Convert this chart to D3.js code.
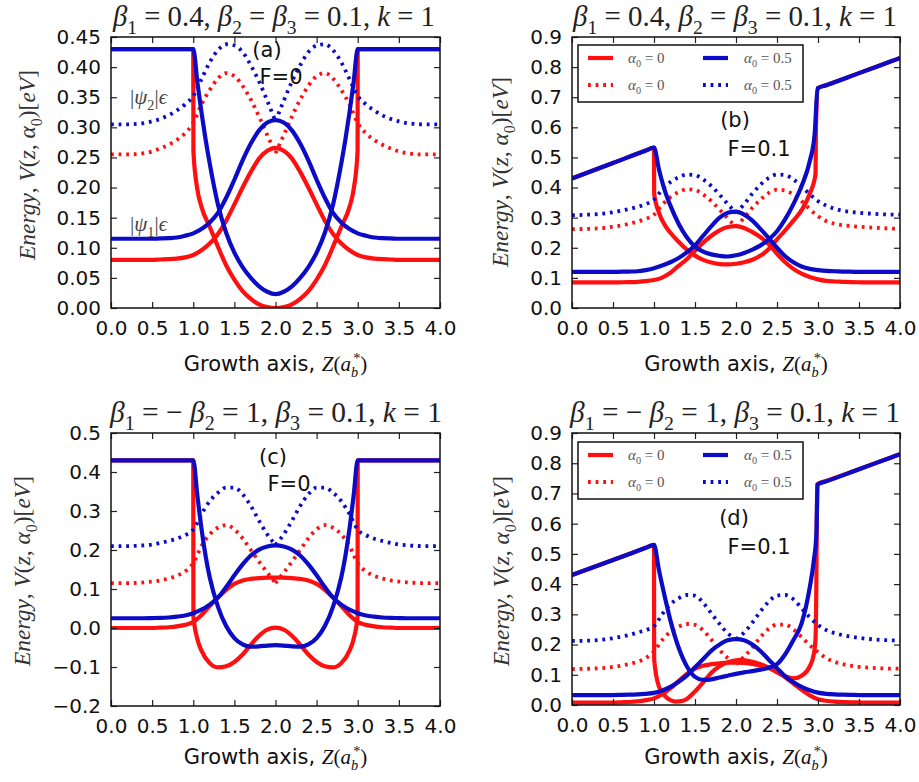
<!DOCTYPE html>
<html><head><meta charset="utf-8">
<script src="https://cdn.jsdelivr.net/npm/d3@7"></script>
<style>body{margin:0;background:#fff} svg{display:block}</style>
</head><body>
<svg id="c" width="919" height="782"></svg>
<script>
// ---------- data ----------
const xTicks = [0,0.5,1,1.5,2,2.5,3,3.5,4];
const a_yTicks = [0,0.05,0.1,0.15,0.2,0.25,0.3,0.35,0.4,0.45];
const b_yTicks = [0,0.1,0.2,0.3,0.4,0.5,0.6,0.7,0.8,0.9];
const c_yTicks = [-0.2,-0.1,0,0.1,0.2,0.3,0.4,0.5];
const d_yTicks = [0,0.1,0.2,0.3,0.4,0.5,0.6,0.7,0.8,0.9];

const zGrid = [0,0.2,0.4,0.5,0.6,0.7,0.8,0.9,1.0,1.1,1.2,1.3,1.4,1.5,1.6,1.7,1.8,1.9,2.0,
               2.1,2.2,2.3,2.4,2.5,2.6,2.7,2.8,2.9,3.0,3.1,3.2,3.3,3.4,3.5,3.6,3.8,4.0];

// panel (a)  beta1=0.4, F=0
const a_pot_red = [[0,0.43],[1.0,0.43],[1.002,0.26],[1.05,0.197],[1.1,0.168],[1.2,0.135],[1.3,0.102],[1.4,0.071],[1.5,0.047],[1.6,0.028],[1.7,0.015],[1.8,0.006],[1.9,0.0015],[2.0,0],
  [2.1,0.0015],[2.2,0.006],[2.3,0.015],[2.4,0.028],[2.5,0.047],[2.6,0.071],[2.7,0.102],[2.8,0.135],[2.9,0.168],[2.95,0.197],[2.998,0.26],[3.0,0.43],[4.0,0.43]];
const a_pot_blue = [[0,0.43],[1.0,0.43],[1.05,0.375],[1.1,0.325],[1.15,0.28],[1.2,0.24],[1.3,0.172],[1.4,0.125],[1.5,0.092],[1.6,0.068],[1.7,0.05],[1.8,0.036],[1.9,0.027],[2.0,0.023],
  [2.1,0.027],[2.2,0.036],[2.3,0.05],[2.4,0.068],[2.5,0.092],[2.6,0.125],[2.7,0.172],[2.8,0.24],[2.85,0.28],[2.9,0.325],[2.95,0.375],[3.0,0.43],[4.0,0.43]];
const a_psi1_red  = [0.080,0.080,0.080,0.080,0.0805,0.081,0.082,0.084,0.088,0.096,0.107,0.123,0.145,0.172,0.200,0.226,0.248,0.261,0.266,
                     0.261,0.248,0.226,0.200,0.172,0.145,0.123,0.107,0.096,0.088,0.084,0.082,0.081,0.0805,0.080,0.080,0.080,0.080];
const a_psi1_blue = [0.115,0.115,0.115,0.115,0.1155,0.116,0.117,0.120,0.124,0.131,0.142,0.158,0.183,0.213,0.245,0.273,0.295,0.308,0.312,
                     0.308,0.295,0.273,0.245,0.213,0.183,0.158,0.142,0.131,0.124,0.120,0.117,0.116,0.1155,0.115,0.115,0.115,0.115];
const a_psi2_red  = [0.255,0.255,0.257,0.260,0.265,0.271,0.279,0.290,0.307,0.338,0.362,0.381,0.390,0.385,0.369,0.346,0.318,0.287,0.257,
                     0.287,0.318,0.346,0.369,0.385,0.390,0.381,0.362,0.338,0.307,0.290,0.279,0.271,0.265,0.260,0.257,0.255,0.255];
const a_psi2_blue = [0.305,0.305,0.307,0.310,0.314,0.320,0.328,0.338,0.352,0.380,0.408,0.428,0.438,0.436,0.425,0.403,0.376,0.344,0.310,
                     0.344,0.376,0.403,0.425,0.436,0.438,0.428,0.408,0.380,0.352,0.338,0.328,0.320,0.314,0.310,0.307,0.305,0.305];

// panel (b)  beta1=0.4, F=0.1
const b_pot_red = [[0,0.43],[0.5,0.4815],[0.9,0.523],[1.0,0.533],[1.002,0.38],[1.06,0.317],[1.14,0.272],[1.2,0.25],[1.3,0.22],[1.4,0.194],[1.5,0.174],[1.6,0.16],[1.7,0.151],[1.8,0.146],[1.9,0.145],[2.0,0.147],
  [2.1,0.152],[2.2,0.16],[2.3,0.174],[2.4,0.196],[2.5,0.228],[2.6,0.258],[2.7,0.29],[2.8,0.325],[2.9,0.38],[2.97,0.445],[2.975,0.6],[3.0,0.73],[3.1,0.74],[3.5,0.78],[3.9,0.82],[4.0,0.83]];
const b_pot_blue = [[0,0.43],[0.5,0.4815],[0.9,0.523],[1.0,0.533],[1.06,0.461],[1.14,0.383],[1.2,0.34],[1.3,0.28],[1.4,0.235],[1.5,0.204],[1.6,0.187],[1.7,0.178],[1.8,0.173],[1.9,0.171],[2.0,0.175],
  [2.1,0.183],[2.2,0.194],[2.3,0.208],[2.4,0.228],[2.5,0.255],[2.6,0.295],[2.7,0.345],[2.8,0.405],[2.9,0.488],[2.96,0.58],[2.995,0.73],[3.1,0.74],[3.5,0.78],[3.9,0.82],[4.0,0.83]];
const b_psi1_red  = [0.085,0.085,0.085,0.085,0.0855,0.086,0.087,0.089,0.093,0.101,0.117,0.14,0.162,0.19,0.217,0.24,0.258,0.269,0.272,
                     0.266,0.252,0.235,0.212,0.18,0.152,0.13,0.114,0.103,0.095,0.09,0.088,0.087,0.086,0.0855,0.085,0.085,0.085];
const b_psi1_blue = [0.120,0.120,0.120,0.120,0.1205,0.121,0.122,0.126,0.132,0.141,0.152,0.166,0.185,0.208,0.24,0.272,0.300,0.316,0.320,
                     0.310,0.290,0.262,0.232,0.200,0.172,0.152,0.138,0.130,0.126,0.123,0.122,0.121,0.1205,0.120,0.120,0.120,0.120];
const b_psi2_red  = [0.262,0.263,0.266,0.270,0.274,0.280,0.287,0.296,0.310,0.343,0.368,0.385,0.394,0.392,0.377,0.355,0.327,0.297,0.270,
                     0.300,0.333,0.360,0.382,0.393,0.390,0.377,0.355,0.328,0.305,0.289,0.280,0.275,0.272,0.270,0.268,0.265,0.263];
const b_psi2_blue = [0.308,0.310,0.314,0.318,0.323,0.329,0.336,0.345,0.360,0.393,0.418,0.434,0.443,0.441,0.427,0.405,0.376,0.345,0.315,
                     0.345,0.380,0.410,0.432,0.443,0.441,0.427,0.404,0.378,0.355,0.340,0.330,0.323,0.319,0.316,0.314,0.311,0.310];

// panel (c)  beta1=-beta2=1, F=0
const c_pot_red = [[0,0.43],[1.0,0.43],[1.002,0.03],[1.05,-0.028],[1.1,-0.058],[1.2,-0.09],[1.3,-0.101],[1.4,-0.098],[1.5,-0.087],[1.6,-0.068],[1.7,-0.043],[1.8,-0.02],[1.9,-0.004],[2.0,0.001],
  [2.1,-0.004],[2.2,-0.02],[2.3,-0.043],[2.4,-0.068],[2.5,-0.087],[2.6,-0.098],[2.7,-0.101],[2.8,-0.09],[2.9,-0.058],[2.95,-0.028],[2.998,0.03],[3.0,0.43],[4.0,0.43]];
const c_pot_blue = [[0,0.43],[1.0,0.43],[1.05,0.34],[1.1,0.255],[1.15,0.185],[1.2,0.13],[1.3,0.055],[1.4,0.005],[1.5,-0.026],[1.6,-0.042],[1.7,-0.048],[1.8,-0.047],[1.9,-0.045],[2.0,-0.044],
  [2.1,-0.045],[2.2,-0.047],[2.3,-0.048],[2.4,-0.042],[2.5,-0.026],[2.6,0.005],[2.7,0.055],[2.8,0.13],[2.85,0.185],[2.9,0.255],[2.95,0.34],[3.0,0.43],[4.0,0.43]];
const c_psi1_red  = [0,0,0,0,0.001,0.002,0.004,0.008,0.015,0.033,0.056,0.078,0.098,0.113,0.122,0.126,0.128,0.129,0.129,
                     0.129,0.128,0.126,0.122,0.113,0.098,0.078,0.056,0.033,0.015,0.008,0.004,0.002,0.001,0,0,0,0];
const c_psi1_blue = [0.025,0.025,0.025,0.0255,0.026,0.027,0.029,0.032,0.038,0.047,0.060,0.078,0.105,0.135,0.163,0.186,0.201,0.209,0.212,
                     0.209,0.201,0.186,0.163,0.135,0.105,0.078,0.060,0.047,0.038,0.032,0.029,0.027,0.026,0.0255,0.025,0.025,0.025];
const c_psi2_red  = [0.115,0.115,0.117,0.119,0.122,0.127,0.134,0.145,0.166,0.210,0.240,0.257,0.264,0.253,0.230,0.200,0.170,0.142,0.115,
                     0.142,0.170,0.200,0.230,0.253,0.264,0.257,0.240,0.210,0.166,0.145,0.134,0.127,0.122,0.119,0.117,0.115,0.115];
const c_psi2_blue = [0.210,0.210,0.212,0.214,0.218,0.223,0.229,0.238,0.252,0.292,0.325,0.347,0.360,0.360,0.343,0.313,0.275,0.240,0.213,
                     0.240,0.275,0.313,0.343,0.360,0.360,0.347,0.325,0.292,0.252,0.238,0.229,0.223,0.218,0.214,0.212,0.210,0.210];

// panel (d)  beta1=-beta2=1, F=0.1
const d_pot_red = [[0,0.43],[0.5,0.48],[0.9,0.52],[1.0,0.53],[1.002,0.15],[1.06,0.061],[1.14,0.028],[1.2,0.016],[1.27,0.011],[1.35,0.014],[1.4,0.02],[1.5,0.045],[1.6,0.075],[1.7,0.107],[1.8,0.128],[1.9,0.141],[2.0,0.148],
  [2.05,0.149],[2.1,0.148],[2.2,0.143],[2.3,0.135],[2.4,0.123],[2.5,0.108],[2.6,0.095],[2.7,0.088],[2.8,0.097],[2.9,0.128],[2.95,0.17],[2.97,0.22],[2.98,0.4],[2.99,0.73],[3.1,0.741],[3.5,0.78],[3.9,0.82],[4.0,0.83]];
const d_pot_blue = [[0,0.43],[0.5,0.48],[0.9,0.52],[1.0,0.53],[1.06,0.447],[1.14,0.348],[1.2,0.28],[1.3,0.19],[1.4,0.128],[1.5,0.093],[1.6,0.083],[1.7,0.085],[1.8,0.091],[1.9,0.097],[2.0,0.103],
  [2.1,0.108],[2.2,0.112],[2.3,0.117],[2.4,0.123],[2.5,0.135],[2.6,0.168],[2.7,0.215],[2.8,0.27],[2.9,0.39],[2.95,0.48],[2.98,0.565],[2.995,0.73],[3.1,0.74],[3.5,0.78],[3.9,0.82],[4.0,0.83]];
const d_psi1_red  = [0.008,0.008,0.008,0.008,0.009,0.010,0.012,0.016,0.022,0.036,0.055,0.079,0.103,0.120,0.130,0.135,0.138,0.140,0.140,
                     0.139,0.136,0.130,0.124,0.110,0.092,0.071,0.050,0.032,0.019,0.014,0.011,0.010,0.009,0.0085,0.008,0.008,0.008];
const d_psi1_blue = [0.033,0.033,0.033,0.033,0.0335,0.034,0.035,0.037,0.040,0.048,0.060,0.077,0.097,0.125,0.152,0.180,0.200,0.214,0.218,
                     0.214,0.200,0.178,0.150,0.122,0.095,0.075,0.060,0.049,0.041,0.037,0.035,0.034,0.0335,0.033,0.033,0.033,0.033];
const d_psi2_red  = [0.119,0.120,0.123,0.126,0.130,0.136,0.143,0.155,0.178,0.215,0.242,0.259,0.268,0.265,0.247,0.216,0.182,0.155,0.135,
                     0.160,0.190,0.225,0.252,0.266,0.266,0.250,0.225,0.198,0.175,0.155,0.143,0.135,0.130,0.126,0.124,0.121,0.120];
const d_psi2_blue = [0.212,0.213,0.217,0.221,0.226,0.232,0.240,0.248,0.260,0.300,0.333,0.353,0.364,0.362,0.338,0.303,0.268,0.237,0.218,
                     0.240,0.273,0.310,0.342,0.362,0.364,0.350,0.320,0.290,0.265,0.248,0.238,0.231,0.226,0.222,0.219,0.215,0.213];

const titleTop = [["β","i"],["1","sub"],[" = 0.4, ","r"],["β","i"],["2","sub"],[" = ","r"],["β","i"],["3","sub"],[" = 0.1, ","r"],["k","i"],[" = 1","r"]];
const titleBot = [["β","i"],["1","sub"],[" = − ","r"],["β","i"],["2","sub"],[" = 1, ","r"],["β","i"],["3","sub"],[" = 0.1, ","r"],["k","i"],[" = 1","r"]];
const yLabelParts = [["Energy","i"],[", ","r"],["V","i"],["(","r"],["z","i"],[", ","r"],["α","i"],["0","sub"],[")[","r"],["eV","i"],["]","r"]];
const legendLabels = [[["α","i"],["0","sub"],[" = 0","r"]],[["α","i"],["0","sub"],[" = 0.5","r"]]];

// ---------- drawing ----------
const RED = "#ff0f0f", BLUE = "#0c0cc6";
const DASH = "2.8,4.8", DOT_W = 3.8, SOLID_W = 4.2;
const SERIF = "'Liberation Serif','DejaVu Serif',serif";
const SANS = "'DejaVu Sans',sans-serif";
const svg = d3.select("#c");

function addMath(text, parts, fs) {
  let cur = 0;
  parts.forEach(([t, s, dx]) => {
    const ts = text.append("tspan").text(t);
    let target = 0, size = fs;
    if (s === "sub" || s === "subi") { target = fs * 0.28; size = fs * 0.68; }
    if (s === "sup") { target = -fs * 0.38; size = fs * 0.68; }
    if (s === "i" || s === "subi") ts.attr("font-style", "italic");
    if (s === "sans") ts.attr("font-family", SANS);
    ts.attr("dy", target - cur).attr("font-size", size);
    if (dx) ts.attr("dx", dx);
    cur = target;
  });
}
function fitMath(g, parts, fs0, width, attrs) {
  let t = g.append("text").attr("font-family", SERIF);
  addMath(t, parts, fs0);
  const L = t.node().getComputedTextLength();
  t.remove();
  const fs = fs0 * width / L;
  t = g.append("text").attr("font-family", SERIF);
  Object.entries(attrs).forEach(([k, v]) => t.attr(k, v));
  addMath(t, parts, fs);
  return t;
}

const panels = [
  {box:[111,440,37,308], yd:[0,0.45], yt:a_yTicks, fmt:".2f", title:titleTop, tx:274, ty:26, tw:322,
   tag:"(a)", tagP:[267,57], F:"F=0", FP:[281,84], yl:[28,165], xlY:371,
   pr:a_pot_red, pb:a_pot_blue, s1r:a_psi1_red, s1b:a_psi1_blue, s2r:a_psi2_red, s2b:a_psi2_blue, legend:null, psiLabels:true},
  {box:[572,900,37,308], yd:[0,0.9], yt:b_yTicks, fmt:".1f", title:titleTop, tx:735, ty:26, tw:324,
   tag:"(b)", tagP:[735,127], F:"F=0.1", FP:[759,156], yl:[501,172], xlY:371,
   pr:b_pot_red, pb:b_pot_blue, s1r:b_psi1_red, s1b:b_psi1_blue, s2r:b_psi2_red, s2b:b_psi2_blue, legend:[578,45], psiLabels:false},
  {box:[111,440,433,706], yd:[-0.2,0.5], yt:c_yTicks, fmt:".1f", title:titleBot, tx:276, ty:422, tw:332,
   tag:"(c)", tagP:[273,464], F:"F=0", FP:[289,491], yl:[23,571], xlY:764,
   pr:c_pot_red, pb:c_pot_blue, s1r:c_psi1_red, s1b:c_psi1_blue, s2r:c_psi2_red, s2b:c_psi2_blue, legend:null, psiLabels:false},
  {box:[572,900,433,705], yd:[0,0.9], yt:d_yTicks, fmt:".1f", title:titleBot, tx:735, ty:422, tw:330,
   tag:"(d)", tagP:[734,525], F:"F=0.1", FP:[759,554], yl:[502,571], xlY:764,
   pr:d_pot_red, pb:d_pot_blue, s1r:d_psi1_red, s1b:d_psi1_blue, s2r:d_psi2_red, s2b:d_psi2_blue, legend:[578,442], psiLabels:false}
];

panels.forEach((p, i) => {
  const [x0, x1, y0, y1] = p.box;
  const x = d3.scaleLinear().domain([0, 4]).range([x0, x1]);
  const y = d3.scaleLinear().domain(p.yd).range([y1, y0]);
  const g = svg.append("g");
  const clipId = "clip" + i;
  svg.append("clipPath").attr("id", clipId).append("rect")
    .attr("x", x0).attr("y", y0).attr("width", x1 - x0).attr("height", y1 - y0);

  const line = d3.line().x(d => x(d[0])).y(d => y(d[1])).curve(d3.curveMonotoneX);
  const plot = g.append("g").attr("clip-path", `url(#${clipId})`);
  const half = (arr, left) => d3.zip(zGrid, arr).filter(d => left ? d[0] <= 2 : d[0] >= 2);

  function dotted(arr, color) {
    [true, false].forEach(left => {
      plot.append("path").attr("d", line(half(arr, left))).attr("fill", "none")
        .attr("stroke", color).attr("stroke-width", DOT_W).attr("stroke-dasharray", DASH);
    });
  }
  function solid(pts, color) {
    plot.append("path").attr("d", line(pts)).attr("fill", "none")
      .attr("stroke", color).attr("stroke-width", SOLID_W).attr("stroke-linejoin", "round");
  }
  dotted(p.s2r, RED);
  solid(d3.zip(zGrid, p.s1r), RED);
  solid(p.pr, RED);
  dotted(p.s2b, BLUE);
  solid(d3.zip(zGrid, p.s1b), BLUE);
  solid(p.pb, BLUE);

  // axes (ticks inside on all sides)
  const fmtY = d3.format(p.fmt);
  const ax = [
    g.append("g").attr("transform", `translate(0,${y1})`).call(d3.axisBottom(x).tickValues(xTicks).tickFormat(d3.format(".1f")).tickSizeInner(-6).tickSizeOuter(0).tickPadding(13)),
    g.append("g").attr("transform", `translate(0,${y0})`).call(d3.axisTop(x).tickValues(xTicks).tickFormat("").tickSizeInner(-6).tickSizeOuter(0)),
    g.append("g").attr("transform", `translate(${x0},0)`).call(d3.axisLeft(y).tickValues(p.yt).tickFormat(fmtY).tickSizeInner(-6).tickSizeOuter(0).tickPadding(10)),
    g.append("g").attr("transform", `translate(${x1},0)`).call(d3.axisRight(y).tickValues(p.yt).tickFormat("").tickSizeInner(-6).tickSizeOuter(0))
  ];
  ax.forEach(a => {
    a.select(".domain").remove();
    a.selectAll(".tick line").attr("stroke", "#222").attr("stroke-width", 1.2);
    a.selectAll(".tick text").attr("font-family", SANS).attr("font-size", 20).attr("fill", "#111");
  });
  g.append("rect").attr("x", x0).attr("y", y0).attr("width", x1 - x0).attr("height", y1 - y0)
    .attr("fill", "none").attr("stroke", "#111").attr("stroke-width", 1.5);

  // title
  fitMath(g, p.title, 24, p.tw, {x: p.tx, y: p.ty, "text-anchor": "middle", fill: "#222"});

  // y label
  fitMath(g, yLabelParts, 18, 190, {"text-anchor": "middle", fill: "#333",
     transform: `translate(${p.yl[0] + 7},${p.yl[1]}) rotate(-90)`});

  // x label
  const xl = g.append("text").attr("x", (x0 + x1) / 2).attr("y", p.xlY).attr("text-anchor", "middle")
     .attr("font-family", SERIF).attr("fill", "#111");
  addMath(xl, [["Growth axis, ","sans"],["Z","i"],["(","r"],["a","i"],["b","subi"],["*","sup",-5],[")","r"]], 21);

  // annotations
  g.append("text").attr("x", p.tagP[0]).attr("y", p.tagP[1]).attr("text-anchor", "middle")
    .attr("font-family", SANS).attr("font-size", 21).attr("fill", "#111").text(p.tag);
  g.append("text").attr("x", p.FP[0]).attr("y", p.FP[1]).attr("text-anchor", "middle")
    .attr("font-family", SANS).attr("font-size", 21).attr("fill", "#111").text(p.F);

  if (p.psiLabels) {
    const t2 = g.append("text").attr("x", 130).attr("y", 104).attr("font-family", SERIF).attr("fill", "#444");
    addMath(t2, [["|","r"],["ψ","i"],["2","sub"],["|","r"],["ϵ","i"]], 21);
    const t1 = g.append("text").attr("x", 130).attr("y", 231).attr("font-family", SERIF).attr("fill", "#444");
    addMath(t1, [["|","r"],["ψ","i"],["1","sub"],["|","r"],["ϵ","i"]], 21);
  }

  if (p.legend) {
    const [lx, ly] = p.legend;
    const lg = g.append("g");
    lg.append("rect").attr("x", lx).attr("y", ly).attr("width", 225).attr("height", 57)
      .attr("fill", "#fff").attr("stroke", "#111").attr("stroke-width", 1.5);
    const cols = [[RED, 0], [BLUE, 1]];
    cols.forEach(([col, ci]) => {
      const cx = lx + 10 + ci * 115;
      [0, 1].forEach(row => {
        const yy = ly + 13 + row * 27;
        const ln = lg.append("line").attr("x1", cx).attr("x2", cx + 25).attr("y1", yy).attr("y2", yy)
          .attr("stroke", col).attr("stroke-width", row ? DOT_W : SOLID_W);
        if (row) ln.attr("stroke-dasharray", DASH);
        const t = lg.append("text").attr("x", cx + 40 + (ci ? 1 : 0)).attr("y", yy + 5)
          .attr("font-family", SERIF).attr("fill", "#555");
        addMath(t, legendLabels[ci], 15);
      });
    });
  }
});
</script>
</body></html>
